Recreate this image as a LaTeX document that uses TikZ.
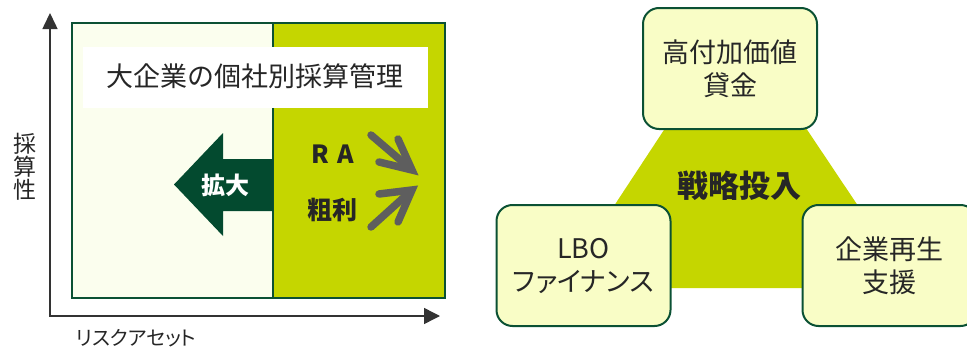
\documentclass[tikz,border=0pt]{standalone}
\usepackage{fontspec}
\newfontfamily\jp[RawFeature=+palt]{Noto Sans CJK JP}
\usetikzlibrary{arrows.meta,calc}
\definecolor{dkgreen}{HTML}{0B5134}
\definecolor{arrowgreen}{HTML}{034A2F}
\definecolor{lime}{HTML}{C5D600}
\definecolor{paleleft}{HTML}{FBFEEE}
\definecolor{boxfill}{HTML}{F9FDC6}
\definecolor{txt}{HTML}{262626}
\definecolor{grayarrow}{HTML}{5E5E5E}
\definecolor{axiscol}{HTML}{333333}
\tikzset{
  lbl/.style={inner sep=0pt, text=txt, align=center},
  bigtext/.style={lbl, font=\jp\fontsize{27pt}{33pt}\selectfont},
  boldtext/.style={lbl, font=\jp\bfseries\fontsize{25pt}{30pt}\selectfont},
  box/.style={draw=dkgreen, line width=2pt, fill=boxfill, rounded corners=16pt,
    minimum width=174pt, minimum height=121pt, inner sep=0pt, align=center,
    text=txt, font=\jp\fontsize{27pt}{33pt}\selectfont},
  grayarr/.style={draw=grayarrow, line width=7.5pt, line cap=round, line join=miter},
  axis/.style={draw=axiscol, line width=1.5pt}
}
\begin{document}
\begin{tikzpicture}[x=1pt,y=-1pt]
\useasboundingbox (0,0) rectangle (967,348);
\clip (0,0) rectangle (967,348);
% ---- left panel ----
\fill[paleleft] (72,23) rectangle (273,298);
\fill[lime] (273,23) rectangle (445,298);
\draw[dkgreen, line width=1.5pt] (72,23) rectangle (445,298);
\draw[dkgreen, line width=1.5pt] (273,23) -- (273,298);
\node[fill=white, minimum width=345pt, minimum height=61pt, inner sep=0pt] (title) at (255.5,77.5) {};
\node[bigtext] (titletext) at (255,76) {大企業の個社別採算管理};
% big left arrow
\coordinate (a1) at (273,159);
\coordinate (a2) at (223,159);
\coordinate (a3) at (223,133);
\coordinate (a4) at (174,184.5);
\coordinate (a5) at (223,236);
\coordinate (a6) at (223,211);
\coordinate (a7) at (273,211);
\fill[arrowgreen] (a1) -- (a2) -- (a3) -- (a4) -- (a5) -- (a6) -- (a7) -- cycle;
\node[lbl, text=white, font=\jp\bfseries\fontsize{24pt}{28pt}\selectfont] (expand) at (225,185) {拡大};
\node[boldtext] (ra) at (333,154) {R\hspace{0.35em}A};
\node[boldtext] (arari) at (332,210) {粗利};
% gray arrows
\coordinate (g1s) at (371,135);
\coordinate (g1t) at (412,170);
\coordinate (g1a) at (379,162);
\coordinate (g1b) at (398,139);
\draw[grayarr] (g1s) -- ($(g1t)!5pt!(g1s)$);
\draw[grayarr] (g1a) -- (g1t) -- (g1b);
\coordinate (g2s) at (371,227);
\coordinate (g2t) at (412,190);
\coordinate (g2a) at (379,194);
\coordinate (g2b) at (398,222);
\draw[grayarr] (g2s) -- ($(g2t)!5pt!(g2s)$);
\draw[grayarr] (g2a) -- (g2t) -- (g2b);
% axes
\coordinate (ytip) at (50,13);
\coordinate (origin) at (50,316);
\coordinate (xtip) at (440,316);
\draw[axis, {Triangle[length=16pt,width=15pt]}-{Triangle[length=16pt,width=16pt]}] (ytip) -- (origin) -- (xtip);
\node[lbl, font=\jp\fontsize{23pt}{23pt}\selectfont] (ylabel) at (25,167) {採\\算\\性};
\node[lbl, font=\jp\fontsize{20pt}{24pt}\selectfont] (xlabel) at (136,338) {リスクアセット};
% ---- right panel ----
\fill[lime] (735,22) -- (560,288) -- (913,288) -- cycle;
\node[box] (top) at (730,68.5) {高付加価値\\貸金};
\node[box] (lbo) at (583.5,265.5) {LBO\\ファイナンス};
\node[box] (saisei) at (889.5,265.5) {企業再生\\支援};
\node[lbl, font=\jp\bfseries\fontsize{31pt}{35pt}\selectfont] (senryaku) at (739,186) {戦略投入};
\end{tikzpicture}
\end{document}
